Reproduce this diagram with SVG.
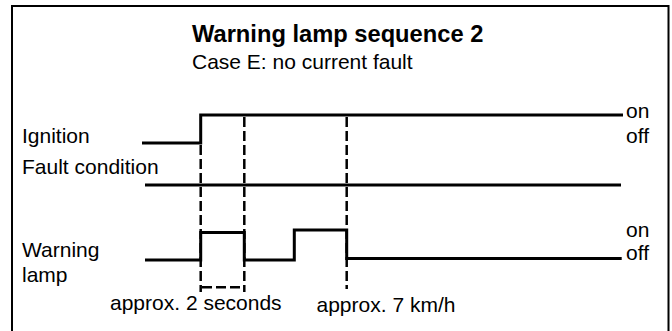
<svg xmlns="http://www.w3.org/2000/svg" width="672" height="331" viewBox="0 0 672 331">
<style>
text{font-family:"Liberation Sans",Arial,sans-serif;fill:#000}
.t{font-size:23.7px;font-weight:bold}
.l{font-size:21px}
.sig{fill:none;stroke:#000;stroke-width:3;stroke-linejoin:miter;stroke-linecap:butt}
.dash{fill:none;stroke:#000;stroke-width:2.5;stroke-dasharray:10 4}
.frame{fill:none;stroke:#000;stroke-width:2}
</style>
<rect width="672" height="331" fill="#fff"/>
<path class="frame" d="M12,335 V6 H668.5 V335"/>
<g id="title">
<text class="t" x="192" y="41.5">Warning lamp sequence 2</text>
<text class="l" x="192" y="69">Case E: no current fault</text>
</g>
<g id="ignition">
<text class="l" x="22" y="142.5">Ignition</text>
<text class="l" x="626" y="117.5">on</text>
<text class="l" x="626" y="142.5">off</text>
<path class="sig" d="M142,143 H200.7 V115 H623"/>
</g>
<g id="fault">
<text class="l" x="22" y="174.3">Fault condition</text>
<path class="sig" d="M145,185 H621"/>
</g>
<g id="lamp">
<text class="l" x="22" y="257.3">Warning</text>
<text class="l" x="22" y="281.7">lamp</text>
<text class="l" x="626" y="236.7">on</text>
<text class="l" x="626" y="260">off</text>
<path class="sig" d="M145,260 H200.7 V232.5 H244.3 V260 H294.3 V230 H346.7 V258.5 H621.7"/>
</g>
<g id="connectors">
<path class="dash" d="M200.7,145 V292"/>
<path class="dash" d="M244.3,117 V292"/>
<path class="dash" d="M346.7,117 V289"/>
<path class="dash" d="M202,287.3 H243"/>
</g>
<g id="annotations">
<text class="l" x="110" y="310">approx. 2 seconds</text>
<text class="l" x="316.5" y="311.5">approx. 7 km/h</text>
</g>
</svg>
